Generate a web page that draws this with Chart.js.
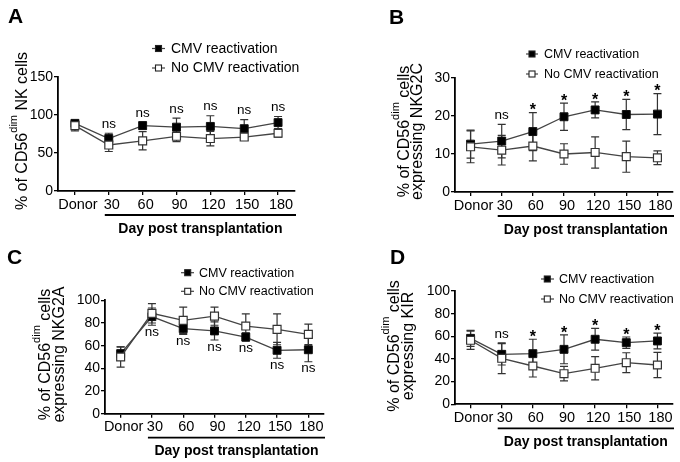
<!DOCTYPE html>
<html>
<head>
<meta charset="utf-8">
<script src="https://cdn.jsdelivr.net/npm/chart.js@4.4.0/dist/chart.umd.min.js"></script>
<style>
  body { margin: 0; background: #fff; }
  #wrap { position: relative; width: 680px; height: 462px; overflow: hidden; }
  canvas { position: absolute; }
</style>
</head>
<body>
<div id="wrap">
  <canvas id="panelA" width="340" height="246" style="left:0;top:0"></canvas>
  <canvas id="panelB" width="340" height="246" style="left:340px;top:0"></canvas>
  <canvas id="panelC" width="340" height="231" style="left:0;top:231px"></canvas>
  <canvas id="panelD" width="340" height="231" style="left:340px;top:231px"></canvas>
</div>
<script>
const categories = ['Donor', '30', '60', '90', '120', '150', '180'];
const seriesNames = ['CMV reactivation', 'No CMV reactivation'];
const xTitle = 'Day post transplantation';

// A: % of CD56dim NK cells
const cmvA = [89, 69, 86, 84, 85, 82, 90];
const cmvSdA = [4, 7, 5, 12, 14, 12, 8];
const noCmvA = [86, 60.5, 66, 72, 69, 71, 76];
const noCmvSdA = [7, 8.5, 12, 7, 9.5, 4, 5];
const sigA = ['', 'ns', 'ns', 'ns', 'ns', 'ns', 'ns'];
const yTicksA = { max: 150, step: 50 };

// B: NKG2C
const cmvB = [12.6, 13.4, 15.9, 19.8, 21.6, 20.4, 20.5];
const cmvSdB = [3.7, 4.4, 5, 3.6, 2.1, 4, 5.4];
const noCmvB = [11.9, 11, 12.1, 10, 10.4, 9.3, 9];
const noCmvSdB = [4.2, 3.9, 3.9, 2.7, 4.1, 4.1, 1.8];
const sigB = ['', 'ns', '*', '*', '*', '*', '*'];
const yTicksB = { max: 30, step: 10 };

// C: NKG2A
const cmvC = [53, 85.6, 75, 73, 67.6, 55.9, 56.4];
const cmvSdC = [6, 7.6, 5, 8, 3.6, 7, 10.6];
const noCmvC = [50, 88.5, 82.3, 86, 77.3, 74.4, 70];
const noCmvSdC = [9, 8.5, 11.7, 8, 10.7, 13.6, 9];
const sigC = ['', 'ns', 'ns', 'ns', 'ns', 'ns', 'ns'];
const yTicksC = { max: 100, step: 20 };

// D: KIR
const cmvD = [58.2, 44.1, 44.7, 48.5, 57.4, 54.4, 55.9];
const cmvSdD = [7, 9.4, 12.7, 12.7, 9.6, 5, 7];
const noCmvD = [56.5, 40.6, 33.8, 27, 31.8, 36.7, 34.7];
const noCmvSdD = [8, 13.6, 9.7, 6.4, 10.2, 8.8, 11.2];
const sigD = ['', 'ns', '*', '*', '*', '*', '*'];
const yTicksD = { max: 100, step: 20 };

const FONT = '"Liberation Sans", Arial, Helvetica, sans-serif';

// layout of each panel (canvas-local pixels)
const panels = {
  panelA: {
    letter: 'A', letterPos: [8, 23],
    area: { left: 58, top: 77, right: 295, bottom: 191 },
    yTitle: [[['% of CD56', 0], ['dim', 1], [' NK cells', 0]]], yTitleBase: [27], yTitleCy: 131,
    legend: { x1: 152, x2: 165, mx: 158.5, rows: [48.5, 68], tx: 171, size: 14 },
    sig: sigA, sigPos: 'above',
    cmv: cmvA, cmvSd: cmvSdA, noCmv: noCmvA, noCmvSd: noCmvSdA, ticks: yTicksA
  },
  panelB: {
    letter: 'B', letterPos: [49, 24],
    area: { left: 115, top: 78, right: 333, bottom: 192 },
    yTitle: [[['% of CD56', 0], ['dim', 1], [' cells', 0]], [['expressing NKG2C', 0]]], yTitleBase: [69, 82], yTitleCy: 131.5,
    legend: { x1: 186, x2: 198, mx: 192, rows: [54, 74], tx: 204, size: 12.5 },
    sig: sigB, sigPos: 'above',
    cmv: cmvB, cmvSd: cmvSdB, noCmv: noCmvB, noCmvSd: noCmvSdB, ticks: yTicksB
  },
  panelC: {
    letter: 'C', letterPos: [7, 33],
    area: { left: 105, top: 69.3, right: 324, bottom: 182.7 },
    yTitle: [[['% of CD56', 0], ['dim', 1], [' cells', 0]], [['expressing NKG2A', 0]]], yTitleBase: [50, 63.5], yTitleCy: 123.5,
    legend: { x1: 181, x2: 194, mx: 187.7, rows: [41.7, 60.3], tx: 199, size: 12.5 },
    sig: sigC, sigPos: 'below',
    cmv: cmvC, cmvSd: cmvSdC, noCmv: noCmvC, noCmvSd: noCmvSdC, ticks: yTicksC
  },
  panelD: {
    letter: 'D', letterPos: [50, 33],
    area: { left: 115, top: 60, right: 333, bottom: 173.3 },
    yTitle: [[['% of CD56', 0], ['dim', 1], [' cells', 0]], [['expressing KIR', 0]]], yTitleBase: [58.5, 72.5], yTitleCy: 115,
    legend: { x1: 201, x2: 214, mx: 207.3, rows: [48, 68], tx: 219, size: 12.5 },
    sig: sigD, sigPos: 'above',
    cmv: cmvD, cmvSd: cmvSdD, noCmv: noCmvD, noCmvSd: noCmvSdD, ticks: yTicksD
  }
};

function drawMarker(ctx, x, y, size, filled) {
  ctx.fillStyle = filled ? '#000' : '#fff';
  ctx.fillRect(x - size / 2, y - size / 2, size, size);
  ctx.strokeStyle = '#222';
  ctx.lineWidth = 1.1;
  ctx.strokeRect(x - size / 2, y - size / 2, size, size);
}

const extras = {
  id: 'extras',
  beforeDatasetsDraw(chart) {
    // error bars behind the markers
    const ctx = chart.ctx, ys = chart.scales.y;
    ctx.save();
    ctx.strokeStyle = '#333';
    ctx.lineWidth = 1.2;
    chart.data.datasets.forEach((ds, i) => {
      chart.getDatasetMeta(i).data.forEach((pt, j) => {
        const hi = ys.getPixelForValue(ds.data[j] + ds.sd[j]);
        const lo = ys.getPixelForValue(ds.data[j] - ds.sd[j]);
        ctx.beginPath();
        ctx.moveTo(pt.x, hi); ctx.lineTo(pt.x, lo);
        ctx.moveTo(pt.x - 4, hi); ctx.lineTo(pt.x + 4, hi);
        ctx.moveTo(pt.x - 4, lo); ctx.lineTo(pt.x + 4, lo);
        ctx.stroke();
      });
    });
    ctx.restore();
  },
  afterDraw(chart) {
    const p = panels[chart.canvas.id];
    const ctx = chart.ctx, ys = chart.scales.y, xs = chart.scales.x;
    const area = chart.chartArea;
    ctx.save();
    ctx.fillStyle = '#000';

    // panel letter
    ctx.font = 'bold 21px ' + FONT;
    ctx.textAlign = 'left';
    ctx.textBaseline = 'alphabetic';
    ctx.fillText(p.letter, p.letterPos[0], p.letterPos[1]);

    // y title, rotated, with superscript
    p.yTitle.forEach((parts, li) => {
      ctx.save();
      ctx.translate(p.yTitleBase[li], p.yTitleCy);
      ctx.rotate(-Math.PI / 2);
      let total = 0;
      parts.forEach(([t, sup]) => {
        ctx.font = (sup ? '11px ' : '16px ') + FONT;
        total += ctx.measureText(t).width;
      });
      let x = -total / 2;
      parts.forEach(([t, sup]) => {
        ctx.font = (sup ? '11px ' : '16px ') + FONT;
        ctx.fillText(t, x, sup ? -10 : 0);
        x += ctx.measureText(t).width;
      });
      ctx.restore();
    });

    // legend
    const lg = p.legend;
    seriesNames.forEach((name, i) => {
      const y = lg.rows[i];
      ctx.strokeStyle = '#444';
      ctx.lineWidth = 1.2;
      ctx.beginPath();
      ctx.moveTo(lg.x1, y); ctx.lineTo(lg.x2, y);
      ctx.stroke();
      drawMarker(ctx, lg.mx, y, 6, i === 0);
      ctx.fillStyle = '#000';
      ctx.font = lg.size + 'px ' + FONT;
      ctx.textAlign = 'left';
      ctx.textBaseline = 'middle';
      ctx.fillText(name, lg.tx, y + 0.5);
    });

    // significance marks
    const metaX = chart.getDatasetMeta(0).data;
    p.sig.forEach((txt, j) => {
      if (!txt) return;
      const x = metaX[j].x;
      let y;
      if (p.sigPos === 'below') {
        const ds = chart.data.datasets[0];
        y = ys.getPixelForValue(ds.data[j] - ds.sd[j]) + 7;
      } else {
        const top = Math.min(...chart.data.datasets.map(ds => ys.getPixelForValue(ds.data[j] + ds.sd[j])));
        y = txt === '*' ? top - 1.5 : top - 9;
      }
      ctx.font = txt === '*' ? 'bold 16px ' + FONT : '13.5px ' + FONT;
      ctx.textAlign = 'center';
      ctx.textBaseline = 'middle';
      ctx.fillText(txt, x, y);
    });

    // bracket under the post-transplant days
    const lineY = area.bottom + 24;
    const x1 = xs.getPixelForValue(1) - 4;
    const x2 = area.right + 1;
    ctx.strokeStyle = '#000';
    ctx.lineWidth = 1.8;
    ctx.beginPath();
    ctx.moveTo(x1, lineY); ctx.lineTo(x2, lineY);
    ctx.stroke();
    ctx.font = 'bold 14px ' + FONT;
    ctx.textAlign = 'center';
    ctx.textBaseline = 'alphabetic';
    ctx.fillText(xTitle, (x1 + x2) / 2, lineY + 17.5);
    ctx.restore();
  }
};

function makePanel(id) {
  const p = panels[id];
  const canvas = document.getElementById(id);
  const W = canvas.width, H = canvas.height;
  const axisGrid = { drawOnChartArea: false, drawTicks: true, tickLength: 4, color: '#000', lineWidth: 1.3 };
  const axisBorder = { display: true, color: '#000', width: 1.8 };

  new Chart(canvas, {
    type: 'line',
    data: {
      labels: categories,
      datasets: [
        {
          label: seriesNames[0],
          data: p.cmv,
          sd: p.cmvSd,
          order: 2,
          borderColor: '#444',
          borderWidth: 1.3,
          pointStyle: 'rect',
          pointRadius: 5.6,
          pointBackgroundColor: '#000',
          pointBorderColor: '#111',
          pointBorderWidth: 1,
          tension: 0
        },
        {
          label: seriesNames[1],
          data: p.noCmv,
          sd: p.noCmvSd,
          order: 1,
          borderColor: '#444',
          borderWidth: 1.3,
          pointStyle: 'rect',
          pointRadius: 5.6,
          pointBackgroundColor: '#fff',
          pointBorderColor: '#333',
          pointBorderWidth: 1.2,
          tension: 0
        }
      ]
    },
    options: {
      responsive: false,
      animation: false,
      layout: { padding: { top: p.area.top, right: W - p.area.right, left: 0, bottom: 0 } },
      plugins: {
        legend: { display: false },
        tooltip: { enabled: false }
      },
      scales: {
        x: {
          offset: true,
          grid: axisGrid,
          border: axisBorder,
          ticks: { color: '#000', font: { family: FONT, size: 14.5 }, padding: 1, labelOffset: 3, autoSkip: false, minRotation: 0, maxRotation: 0 },
          afterFit: s => { s.height = H - p.area.bottom; }
        },
        y: {
          min: 0,
          max: p.ticks.max,
          grid: axisGrid,
          border: axisBorder,
          ticks: { stepSize: p.ticks.step, color: '#000', font: { family: FONT, size: 14 }, padding: 1 },
          afterFit: s => { s.width = p.area.left; }
        }
      }
    },
    plugins: [extras]
  });
}

['panelA', 'panelB', 'panelC', 'panelD'].forEach(makePanel);
</script>
</body>
</html>
